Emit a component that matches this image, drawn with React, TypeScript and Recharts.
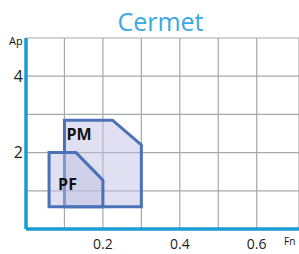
import { ScatterChart, Scatter, XAxis, YAxis, CartesianGrid, ReferenceDot } from "recharts";

// polygon outlines, first point repeated to close them
const PM_X = [0.1, 0.1, 0.225, 0.3, 0.3, 0.1];
const PM_Y = [0.58, 2.85, 2.85, 2.2, 0.58, 0.58];
const PF_X = [0.06, 0.06, 0.13, 0.2, 0.2, 0.06];
const PF_Y = [0.58, 2.0, 2.0, 1.28, 0.58, 0.58];

const LABELS = ["PM", "PF"];
const LABEL_X = [0.138, 0.108];
const LABEL_Y = [2.48, 1.17];

const X_TICKS = [0.1, 0.2, 0.3, 0.4, 0.5, 0.6];
const X_SHOWN = [0.2, 0.4, 0.6];
const Y_TICKS = [1, 2, 3, 4];
const Y_SHOWN = [2, 4];

const pm = PM_X.map((x, i) => ({ x, y: PM_Y[i] }));
const pf = PF_X.map((x, i) => ({ x, y: PF_Y[i] }));

const BLUE = "#1a9ad6";
const FONT = "'Open Sans', sans-serif";

const polyLine = {
  stroke: "#4a72b8",
  strokeWidth: 3,
  fill: "#bebee4",
  fillOpacity: 0.48,
  strokeLinecap: "square" as const,
};

export default function App() {
  return (
    <div style={{ position: "absolute", left: 0, top: 0, width: 299, height: 254, background: "#fff", fontFamily: FONT }}>
      <div style={{ position: "absolute", left: 0, width: 321, top: 4, textAlign: "center", color: "#3aa8e2", fontSize: 25, lineHeight: "34px" }}>
        Cermet
      </div>
      <div style={{ position: "absolute", left: 9, top: 33, fontSize: 11, color: "#111" }}>Ap</div>
      <div style={{ position: "absolute", left: 284, top: 234, fontSize: 10, color: "#111" }}>Fn</div>
      <ScatterChart width={299} height={254} margin={{ top: 38, right: 0, bottom: 0, left: 0 }} style={{ fontFamily: FONT }}>
        <CartesianGrid stroke="#a8a8a8" strokeWidth={1.2} />
        <XAxis
          type="number"
          dataKey="x"
          domain={[0, 0.71]}
          ticks={X_TICKS}
          tickFormatter={(v) => (X_SHOWN.includes(v) ? String(v) : "")}
          height={25}
          tickLine={false}
          axisLine={{ stroke: BLUE, strokeWidth: 3.5 }}
          tick={{ fill: "#222", fontSize: 14 }}
          tickMargin={4}
        />
        <YAxis
          type="number"
          dataKey="y"
          domain={[0, 5]}
          ticks={Y_TICKS}
          tickFormatter={(v) => (Y_SHOWN.includes(v) ? String(v) : "")}
          width={26}
          tickLine={false}
          axisLine={{ stroke: BLUE, strokeWidth: 3.5 }}
          tick={{ fill: "#222", fontSize: 16 }}
          tickSize={3}
          tickMargin={0}
        />
        <Scatter data={pm} line={polyLine} lineType="joint" shape={() => <g />} isAnimationActive={false} />
        <Scatter data={pf} line={polyLine} lineType="joint" shape={() => <g />} isAnimationActive={false} />
        {LABELS.map((t, i) => (
          <ReferenceDot
            key={t}
            x={LABEL_X[i]}
            y={LABEL_Y[i]}
            r={0}
            fill="none"
            stroke="none"
            label={{ value: t, position: "center", fill: "#111", fontSize: 16, fontWeight: 700 }}
          />
        ))}
      </ScatterChart>
    </div>
  );
}
